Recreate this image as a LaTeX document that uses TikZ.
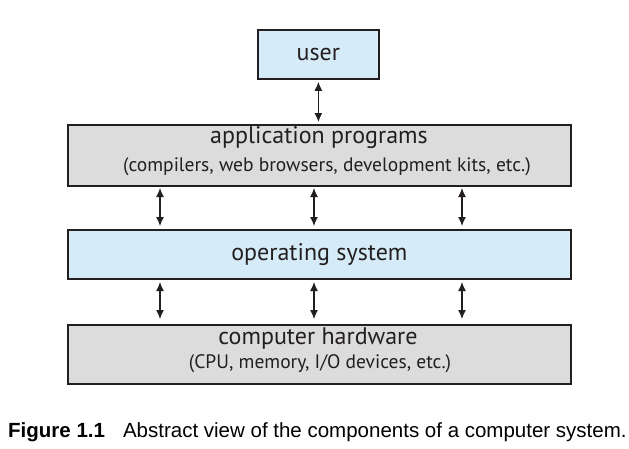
\documentclass[tikz,border=0pt]{standalone}
\usepackage{fontspec}
\setmainfont{PT Sans}
\newfontfamily\capfont{Liberation Sans}
\usetikzlibrary{arrows.meta}
\definecolor{boxblue}{HTML}{D5EBF8}
\definecolor{boxgray}{HTML}{DCDCDC}
\definecolor{ink}{HTML}{231F20}
\tikzset{
  layer/.style={draw=ink, line width=1.8pt, inner sep=0pt, anchor=north west},
  bluebox/.style={layer, fill=boxblue},
  graybox/.style={layer, fill=boxgray},
  link/.style={draw=ink, line width=1.2pt, {Latex[length=9pt,width=8pt]}-{Latex[length=9pt,width=8pt]}},
  lbl/.style={font=\fontsize{24}{28}\selectfont, text=ink},
  sublbl/.style={font=\fontsize{19.5}{23}\selectfont, text=ink},
}
\begin{document}
\begin{tikzpicture}[x=1pt,y=-1pt]
\useasboundingbox (0,0) rectangle (629,448);
\node[bluebox, minimum width=121pt, minimum height=49pt] (user) at (257,29) {};
\node[lbl] at (user.center) {user};
\node[graybox, minimum width=503pt, minimum height=61pt] (app) at (67,124) {};
\node[lbl] at (319,138) {application programs};
\node[sublbl] at (327,167) {(compilers, web browsers, development kits, etc.)};
\node[bluebox, minimum width=503pt, minimum height=49pt] (os) at (67,229) {};
\node[lbl] at (os.center) {operating system};
\node[graybox, minimum width=503pt, minimum height=59pt] (hw) at (67,324) {};
\node[lbl] at (318,338) {computer hardware};
\node[sublbl] at (320,364) {(CPU, memory, I/O devices, etc.)};
\draw[link] ([yshift=-2pt]user.south) -- ([yshift=2pt]user.south |- app.north);
\foreach \x/\n in {160/a,314/b,462/c}{
  \coordinate (t\n) at (\x,188);
  \coordinate (u\n) at (\x,226);
  \coordinate (v\n) at (\x,282);
  \coordinate (w\n) at (\x,319);
  \draw[link] (t\n) -- (u\n);
  \draw[link] (v\n) -- (w\n);
}
\node[anchor=west, font=\capfont\fontsize{20.5}{24}\selectfont, inner sep=0pt] (cap) at (8,432) {\textbf{Figure 1.1}\hspace{18pt}Abstract view of the components of a computer system.};
\end{tikzpicture}
\end{document}
